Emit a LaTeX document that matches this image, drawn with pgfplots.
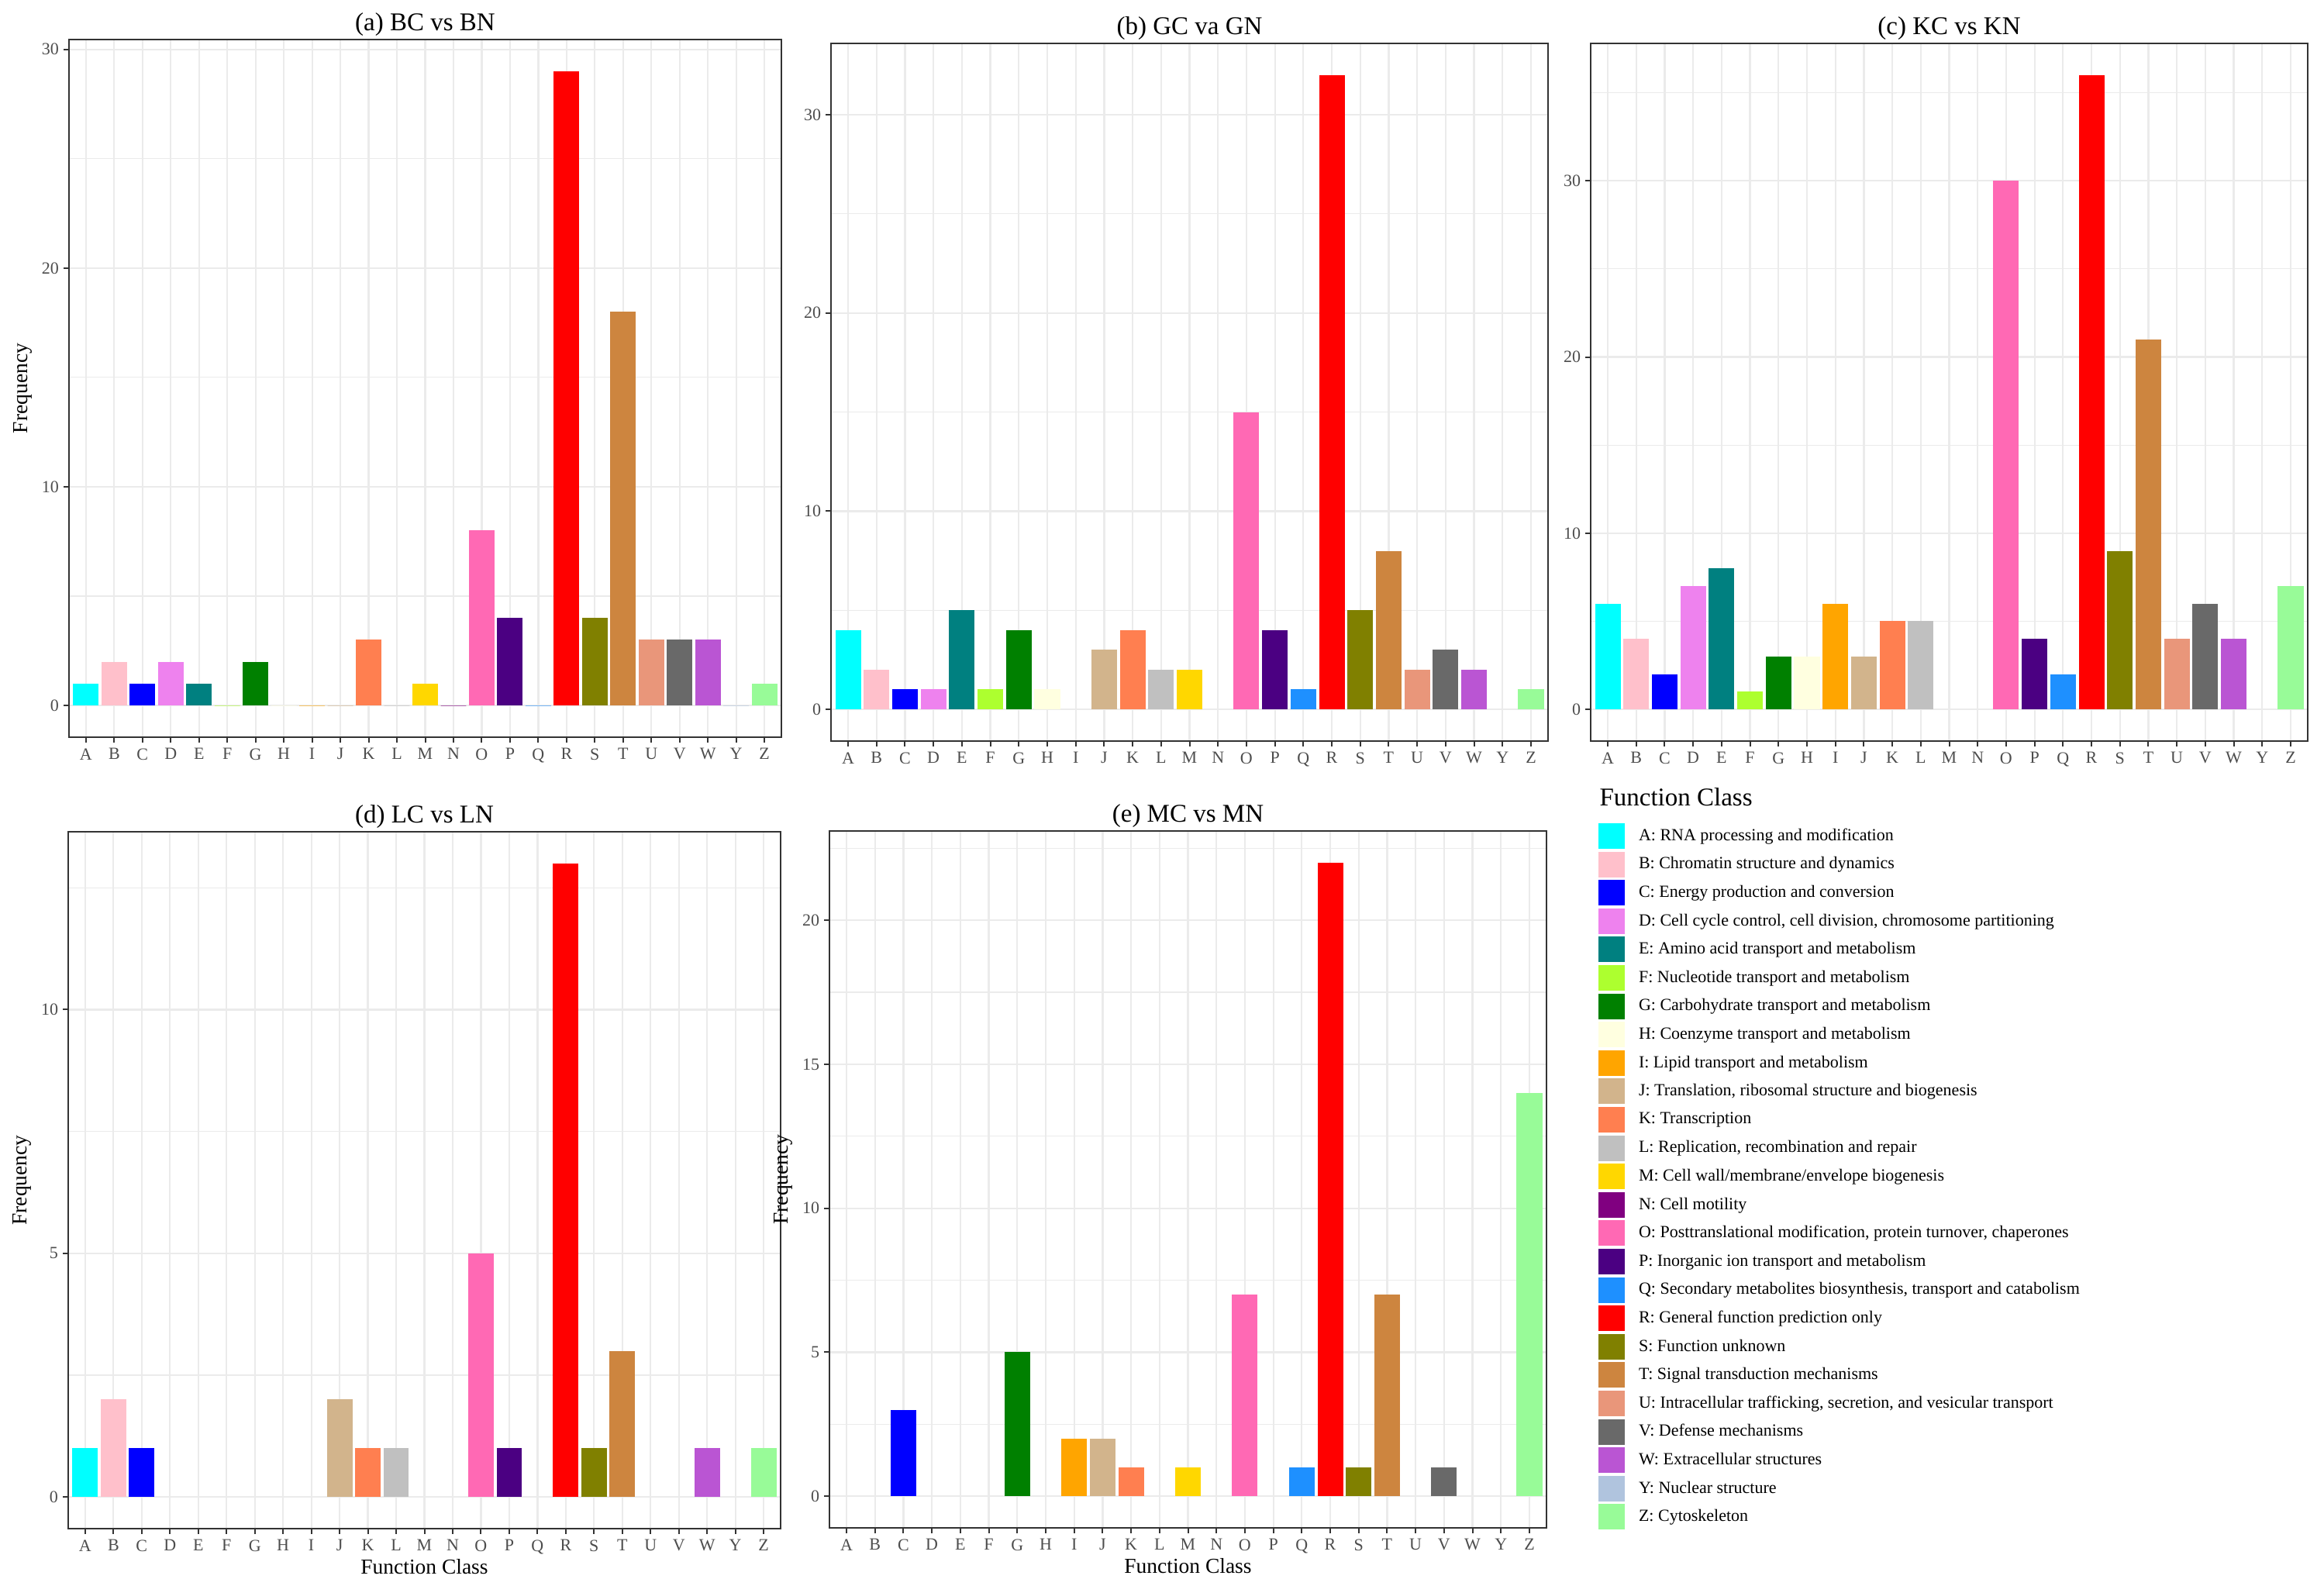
\documentclass[border=0pt]{standalone}
\usepackage{fontspec}
\setmainfont{Liberation Serif}
\usepackage{pgfplots}
\pgfplotsset{compat=1.18}

\definecolor{gray20}{HTML}{333333}
\definecolor{gray30}{HTML}{4D4D4D}
\definecolor{gray92}{HTML}{EBEBEB}
\definecolor{cA}{HTML}{00FFFF}
\definecolor{cB}{HTML}{FFC0CB}
\definecolor{cC}{HTML}{0000FF}
\definecolor{cD}{HTML}{EE82EE}
\definecolor{cE}{HTML}{008080}
\definecolor{cF}{HTML}{ADFF2F}
\definecolor{cG}{HTML}{008000}
\definecolor{cH}{HTML}{FFFFE0}
\definecolor{cI}{HTML}{FFA500}
\definecolor{cJ}{HTML}{D2B48C}
\definecolor{cK}{HTML}{FF7F50}
\definecolor{cL}{HTML}{C0C0C0}
\definecolor{cM}{HTML}{FFD700}
\definecolor{cN}{HTML}{800080}
\definecolor{cO}{HTML}{FF69B4}
\definecolor{cP}{HTML}{4B0082}
\definecolor{cQ}{HTML}{1E90FF}
\definecolor{cR}{HTML}{FF0000}
\definecolor{cS}{HTML}{808000}
\definecolor{cT}{HTML}{CD853F}
\definecolor{cU}{HTML}{E9967A}
\definecolor{cV}{HTML}{696969}
\definecolor{cW}{HTML}{BA55D3}
\definecolor{cY}{HTML}{B0C4DE}
\definecolor{cZ}{HTML}{98FB98}

\newcommand{\bb}[3]{\addplot[ybar,bar width=0.9,bar shift=0pt,fill=#1,draw=none] coordinates {(#2,#3)};}
\newcommand{\bz}[2]{\addplot[ybar,bar width=0.9,bar shift=0pt,fill=#1,draw=#1,draw opacity=0.5,line width=0.4pt] coordinates {(#2,0)};}

\pgfplotsset{
  panel/.style={
    scale only axis,
    xmin=0.4, xmax=25.6,
    xtick={1,...,25},
    xticklabels={A,B,C,D,E,F,G,H,I,J,K,L,M,N,O,P,Q,R,S,T,U,V,W,Y,Z},
    tick align=outside, tick pos=left,
    major tick length=2.75pt, minor tick length=0pt,
    tick style={gray20, line width=0.8pt},
    axis line style={gray20, line width=0.7pt},
    grid=both,
    major grid style={gray92, line width=0.9pt},
    minor grid style={gray92, line width=0.45pt},
    ticklabel style={font=\fontsize{8.8}{10.6}\selectfont, text=gray30, inner sep=0pt},
    xticklabel style={anchor=north, yshift=-2.85pt},
    yticklabel style={anchor=east, xshift=-2.25pt},
    /pgf/number format/assume math mode=true,
    title style={at={(axis description cs:0.5,1)}, anchor=base, yshift=-1.4pt, inner sep=0pt, font=\fontsize{13.2}{15.8}\selectfont},
    label style={font=\fontsize{11}{13.2}\selectfont, inner sep=0pt},
    xlabel style={at={(axis description cs:0.5,0)}, anchor=base, yshift=-23.6pt},
  },
}

\begin{document}
\begin{tikzpicture}
\path[use as bounding box] (0pt,0pt) rectangle (1199.2pt,818.4pt);

% (a)
\begin{axis}[panel, at={(35.6pt,798pt)}, anchor=north west, width=367.6pt, height=360pt,
  ymin=-1.45, ymax=30.45, ytick={0,10,20,30}, minor ytick={5,15,25},
  title={(a) BC vs BN}, ylabel={Frequency},
  ylabel style={at={(axis description cs:-0.0653,0.5)}, anchor=center}]
\bb{cA}{1}{1} \bb{cB}{2}{2} \bb{cC}{3}{1} \bb{cD}{4}{2} \bb{cE}{5}{1}
\bz{cF}{6} \bb{cG}{7}{2} \bz{cH}{8} \bz{cI}{9} \bz{cJ}{10}
\bb{cK}{11}{3} \bz{cL}{12} \bb{cM}{13}{1} \bz{cN}{14} \bb{cO}{15}{8}
\bb{cP}{16}{4} \bz{cQ}{17} \bb{cR}{18}{29} \bb{cS}{19}{4} \bb{cT}{20}{18}
\bb{cU}{21}{3} \bb{cV}{22}{3} \bb{cW}{23}{3} \bz{cY}{24} \bb{cZ}{25}{1}
\end{axis}

% (b)
\begin{axis}[panel, at={(428.8pt,796pt)}, anchor=north west, width=370pt, height=360pt,
  ymin=-1.6, ymax=33.6, ytick={0,10,20,30}, minor ytick={5,15,25},
  title={(b) GC va GN}]
\bb{cA}{1}{4} \bb{cB}{2}{2} \bb{cC}{3}{1} \bb{cD}{4}{1} \bb{cE}{5}{5}
\bb{cF}{6}{1} \bb{cG}{7}{4} \bb{cH}{8}{1} \bb{cJ}{10}{3}
\bb{cK}{11}{4} \bb{cL}{12}{2} \bb{cM}{13}{2} \bb{cO}{15}{15}
\bb{cP}{16}{4} \bb{cQ}{17}{1} \bb{cR}{18}{32} \bb{cS}{19}{5} \bb{cT}{20}{8}
\bb{cU}{21}{2} \bb{cV}{22}{3} \bb{cW}{23}{2} \bb{cZ}{25}{1}
\end{axis}

% (c)
\begin{axis}[panel, at={(820.8pt,796pt)}, anchor=north west, width=370pt, height=360pt,
  ymin=-1.8, ymax=37.8, ytick={0,10,20,30}, minor ytick={5,15,25,35},
  title={(c) KC vs KN}]
\bb{cA}{1}{6} \bb{cB}{2}{4} \bb{cC}{3}{2} \bb{cD}{4}{7} \bb{cE}{5}{8}
\bb{cF}{6}{1} \bb{cG}{7}{3} \bb{cH}{8}{3} \bb{cI}{9}{6} \bb{cJ}{10}{3}
\bb{cK}{11}{5} \bb{cL}{12}{5} \bb{cO}{15}{30}
\bb{cP}{16}{4} \bb{cQ}{17}{2} \bb{cR}{18}{36} \bb{cS}{19}{9} \bb{cT}{20}{21}
\bb{cU}{21}{4} \bb{cV}{22}{6} \bb{cW}{23}{4} \bb{cZ}{25}{7}
\end{axis}

% (d)
\begin{axis}[panel, at={(35.2pt,389.2pt)}, anchor=north west, width=367.6pt, height=359.6pt,
  ymin=-0.65, ymax=13.65, ytick={0,5,10}, minor ytick={2.5,7.5,12.5},
  title={(d) LC vs LN}, ylabel={Frequency}, xlabel={Function Class},
  ylabel style={at={(axis description cs:-0.0653,0.5)}, anchor=center}]
\bb{cA}{1}{1} \bb{cB}{2}{2} \bb{cC}{3}{1}
\bb{cJ}{10}{2} \bb{cK}{11}{1} \bb{cL}{12}{1} \bb{cO}{15}{5}
\bb{cP}{16}{1} \bb{cR}{18}{13} \bb{cS}{19}{1} \bb{cT}{20}{3}
\bb{cW}{23}{1} \bb{cZ}{25}{1}
\end{axis}

% (e)
\begin{axis}[panel, at={(428pt,389.6pt)}, anchor=north west, width=370pt, height=359.6pt,
  ymin=-1.1, ymax=23.1, ytick={0,5,10,15,20}, minor ytick={2.5,7.5,12.5,17.5,22.5},
  title={(e) MC vs MN}, ylabel={Frequency}, xlabel={Function Class},
  ylabel style={at={(axis description cs:-0.0649,0.5)}, anchor=center}]
\bb{cC}{3}{3} \bb{cG}{7}{5} \bb{cI}{9}{2} \bb{cJ}{10}{2} \bb{cK}{11}{1}
\bb{cM}{13}{1} \bb{cO}{15}{7} \bb{cQ}{17}{1} \bb{cR}{18}{22} \bb{cS}{19}{1}
\bb{cT}{20}{7} \bb{cV}{22}{1} \bb{cZ}{25}{14}
\end{axis}

% legend
\node[anchor=base west, inner sep=0pt, font=\fontsize{13.2}{15.8}\selectfont] at (825.2pt,402.4pt) {Function Class};
\begin{axis}[at={(824.8pt,393.6pt)}, anchor=north west, scale only axis, width=10pt, height=10pt,
  hide axis, xmin=0, xmax=1, ymin=0, ymax=1,
  legend cell align=left,
  legend image code/.code={\fill[#1] (0pt,-6.6pt) rectangle (13.6pt,6.6pt); \path (20.8pt,0pt);},
  legend style={at={(axis description cs:0,1)}, anchor=north west, draw=none, fill=none,
    inner sep=0pt, outer sep=0pt, row sep=1.44pt,
    nodes={inner sep=0pt},
    font=\fontsize{8.8}{10.6}\selectfont}]
\addlegendimage{fill=cA,draw=none}\addlegendentry{A: RNA processing and modification}
\addlegendimage{fill=cB,draw=none}\addlegendentry{B: Chromatin structure and dynamics}
\addlegendimage{fill=cC,draw=none}\addlegendentry{C: Energy production and conversion}
\addlegendimage{fill=cD,draw=none}\addlegendentry{D: Cell cycle control, cell division, chromosome partitioning}
\addlegendimage{fill=cE,draw=none}\addlegendentry{E: Amino acid transport and metabolism}
\addlegendimage{fill=cF,draw=none}\addlegendentry{F: Nucleotide transport and metabolism}
\addlegendimage{fill=cG,draw=none}\addlegendentry{G: Carbohydrate transport and metabolism}
\addlegendimage{fill=cH,draw=none}\addlegendentry{H: Coenzyme transport and metabolism}
\addlegendimage{fill=cI,draw=none}\addlegendentry{I: Lipid transport and metabolism}
\addlegendimage{fill=cJ,draw=none}\addlegendentry{J: Translation, ribosomal structure and biogenesis}
\addlegendimage{fill=cK,draw=none}\addlegendentry{K: Transcription}
\addlegendimage{fill=cL,draw=none}\addlegendentry{L: Replication, recombination and repair}
\addlegendimage{fill=cM,draw=none}\addlegendentry{M: Cell wall/membrane/envelope biogenesis}
\addlegendimage{fill=cN,draw=none}\addlegendentry{N: Cell motility}
\addlegendimage{fill=cO,draw=none}\addlegendentry{O: Posttranslational modification, protein turnover, chaperones}
\addlegendimage{fill=cP,draw=none}\addlegendentry{P: Inorganic ion transport and metabolism}
\addlegendimage{fill=cQ,draw=none}\addlegendentry{Q: Secondary metabolites biosynthesis, transport and catabolism}
\addlegendimage{fill=cR,draw=none}\addlegendentry{R: General function prediction only}
\addlegendimage{fill=cS,draw=none}\addlegendentry{S: Function unknown}
\addlegendimage{fill=cT,draw=none}\addlegendentry{T: Signal transduction mechanisms}
\addlegendimage{fill=cU,draw=none}\addlegendentry{U: Intracellular trafficking, secretion, and vesicular transport}
\addlegendimage{fill=cV,draw=none}\addlegendentry{V: Defense mechanisms}
\addlegendimage{fill=cW,draw=none}\addlegendentry{W: Extracellular structures}
\addlegendimage{fill=cY,draw=none}\addlegendentry{Y: Nuclear structure}
\addlegendimage{fill=cZ,draw=none}\addlegendentry{Z: Cytoskeleton}
\end{axis}
\end{tikzpicture}
\end{document}
